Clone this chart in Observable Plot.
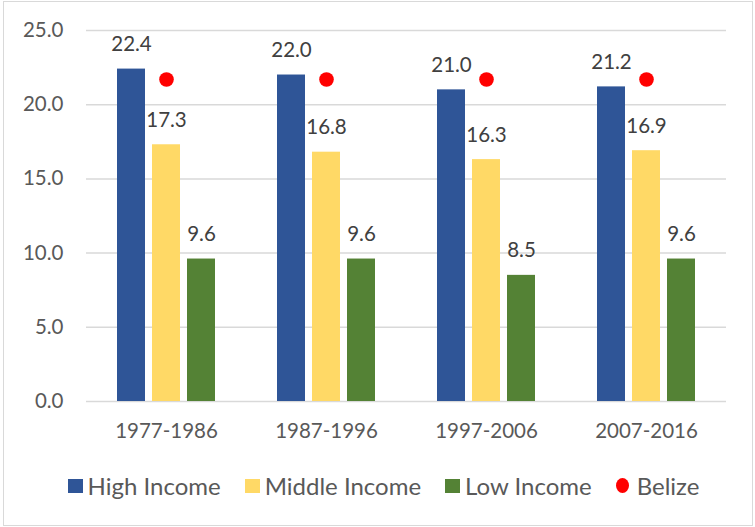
<!DOCTYPE html>
<html>
<head>
<meta charset="utf-8">
<script src="https://cdn.jsdelivr.net/npm/d3@7"></script>
<script src="https://cdn.jsdelivr.net/npm/@observablehq/plot@0.6"></script>
<style>
  body { margin: 0; background: #fff; font-family: Lato, "Liberation Sans", sans-serif; }
  #wrap { position: relative; width: 755px; height: 527px; overflow: hidden; background: #fff; }
  #frame { position: absolute; left: 3px; top: 1px; width: 748px; height: 523px; border: 1px solid #d9d9d9; pointer-events: none; }
  #chart { position: absolute; left: 0; top: 0; }
  #legend { position: absolute; left: 6px; top: 471px; width: 755px; display: flex; justify-content: center; align-items: center; font-size: 24px; color: #595959; }
  .item { display: flex; align-items: center; margin: 0 12px; }
  .sw { width: 15px; height: 14px; margin-right: 5px; }
  .dotsw { width: 13px; height: 15px; border-radius: 50%; margin-right: 8px; }
</style>
</head>
<body>
<div id="wrap">
  <div id="chart"></div>
  <div id="legend"></div>
  <div id="frame"></div>
</div>
<script>
// ---- data ----
const periods = ["1977-1986", "1987-1996", "1997-2006", "2007-2016"];
const seriesNames = ["High Income", "Middle Income", "Low Income"];
const highIncome = [22.4, 22.0, 21.0, 21.2];
const middleIncome = [17.3, 16.8, 16.3, 16.9];
const lowIncome = [9.6, 9.6, 8.5, 9.6];
const belize = [21.7, 21.7, 21.7, 21.7];
const yTicks = [0, 5, 10, 15, 20, 25];
const seriesColors = ["#2F5597", "#FFD966", "#548235"];
const belizeColor = "#FF0000";

// ---- tables ----
const seriesValues = [highIncome, middleIncome, lowIncome];
const rows = [];
periods.forEach((p, i) => {
  seriesNames.forEach((s, j) => rows.push({period: p, series: s, value: seriesValues[j][i]}));
});
const belizeRows = periods.map((p, i) => ({period: p, value: belize[i]}));
const fmt = d3.format(".1f");

const chart = Plot.plot({
  width: 755,
  height: 455,
  marginLeft: 85,
  marginRight: 29,
  marginTop: 30,
  marginBottom: 54,
  style: {fontFamily: "Lato, 'Liberation Sans', sans-serif", background: "transparent"},
  fx: {domain: periods, padding: 0, label: null},
  x: {domain: seriesNames, paddingInner: 0.211, paddingOuter: 0.859, axis: null},
  y: {domain: [0, 25], label: null},
  color: {domain: seriesNames, range: seriesColors},
  marks: [
    Plot.gridY(yTicks, {stroke: "#d9d9d9", strokeOpacity: 1, strokeWidth: 1.5}),
    Plot.axisY(yTicks, {tickSize: 0, tickPadding: 23, tickFormat: fmt, fontSize: 20.5, fill: "#595959", label: null}),
    Plot.axisFx({anchor: "bottom", tickSize: 0, tickPadding: 22, fontSize: 20.5, fill: "#595959", label: null}),
    Plot.barY(rows, {fx: "period", x: "series", y: "value", fill: "series"}),
    Plot.text(rows, {fx: "period", x: "series", y: "value", text: d => fmt(d.value), lineAnchor: "bottom", dy: -18, fontSize: 20.5, fill: "#404040"}),
    Plot.dot(belizeRows, {fx: "period", y: "value", r: 7.3, fill: belizeColor, stroke: "none"})
  ]
});
document.getElementById("chart").appendChild(chart);

// ---- legend ----
const legend = document.getElementById("legend");
seriesNames.forEach((s, j) => {
  const it = document.createElement("div");
  it.className = "item";
  it.innerHTML = `<span class="sw" style="background:${seriesColors[j]}"></span><span>${s}</span>`;
  legend.appendChild(it);
});
const bz = document.createElement("div");
bz.className = "item";
bz.innerHTML = `<span class="dotsw" style="background:${belizeColor}"></span><span>Belize</span>`;
legend.appendChild(bz);
</script>
</body>
</html>
